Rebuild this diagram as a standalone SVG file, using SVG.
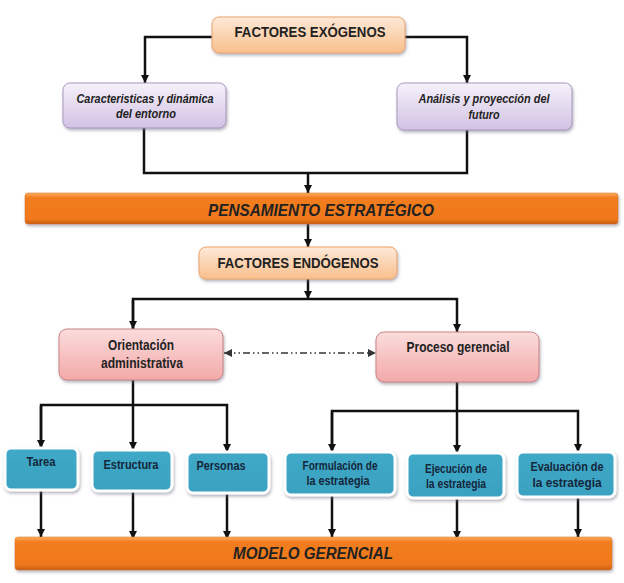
<svg xmlns="http://www.w3.org/2000/svg" width="624" height="583" viewBox="0 0 624 583">
<defs>
<linearGradient id="gOr" x1="0" y1="0" x2="0" y2="1"><stop offset="0" stop-color="#fde9d8"/><stop offset="1" stop-color="#f9bf8c"/></linearGradient>
<linearGradient id="gPu" x1="0" y1="0" x2="0" y2="1"><stop offset="0" stop-color="#f6f1fa"/><stop offset="1" stop-color="#d2c2e4"/></linearGradient>
<linearGradient id="gPk" x1="0" y1="0" x2="0" y2="1"><stop offset="0" stop-color="#fbdcdc"/><stop offset="1" stop-color="#f3a9a9"/></linearGradient>
<linearGradient id="gBl" x1="0" y1="0" x2="0" y2="1"><stop offset="0" stop-color="#40a9c8"/><stop offset="1" stop-color="#3aa1c0"/></linearGradient>
<linearGradient id="gBar" x1="0" y1="0" x2="0" y2="1"><stop offset="0" stop-color="#fbb060"/><stop offset="0.15" stop-color="#f27d20"/><stop offset="0.85" stop-color="#ef781c"/><stop offset="1" stop-color="#c55d10"/></linearGradient>
<filter id="sh" x="-10%" y="-20%" width="120%" height="150%"><feDropShadow dx="1" dy="2" stdDeviation="1.5" flood-color="#6a6a80" flood-opacity="0.5"/></filter>
<marker id="ar" viewBox="0 0 10 10" refX="10" refY="5" markerWidth="8" markerHeight="8" markerUnits="userSpaceOnUse" orient="auto"><path d="M0,0 L10,5 L0,10 z" fill="#111"/></marker>
<marker id="ad" viewBox="0 0 10 10" refX="10" refY="5" markerWidth="8" markerHeight="8" markerUnits="userSpaceOnUse" orient="auto-start-reverse"><path d="M0,0 L10,5 L0,10 z" fill="#333"/></marker>
</defs>
<style>
.t{font-family:"Liberation Sans",Arial,sans-serif;font-weight:bold;fill:#222;text-anchor:middle}
.i{font-style:italic}
.b{fill:#14263a}
.c{fill:none;stroke:#111;stroke-width:2.5}
.or{fill:url(#gOr);stroke:#eba46a;stroke-width:1}
.pu{fill:url(#gPu);stroke:#a899bf;stroke-width:1}
.pk{fill:url(#gPk);stroke:#c98585;stroke-width:1}
.bl{fill:url(#gBl);stroke:#ffffff;stroke-width:3}
.bar{fill:url(#gBar);stroke:#d8701a;stroke-width:0.5}
</style>
<rect width="624" height="583" fill="#ffffff"/>
<g id="connectors">
<path class="c" d="M212,37 H145 V83" marker-end="url(#ar)"/>
<path class="c" d="M405,37 H467 V83" marker-end="url(#ar)"/>
<path class="c" d="M144,128 V173 H467 V130"/>
<path class="c" d="M308,173 V193" marker-end="url(#ar)"/>
<path class="c" d="M308,224 V247" marker-end="url(#ar)"/>
<path class="c" d="M308,279 V299" marker-end="url(#ar)"/>
<path class="c" d="M133,329 V299 H457 V332" marker-end="url(#ar)"/>
<path class="c" d="M133,300 V329" marker-end="url(#ar)"/>
<path d="M224,353 H376" fill="none" stroke="#333" stroke-width="1.5" stroke-dasharray="7,3,1.5,3,1.5,3" marker-start="url(#ad)" marker-end="url(#ad)"/>
<path class="c" d="M133,380 V405"/>
<path class="c" d="M41,448 V405 H227 V452" marker-end="url(#ar)"/>
<path class="c" d="M41,406 V448" marker-end="url(#ar)"/>
<path class="c" d="M133,405 V450" marker-end="url(#ar)"/>
<path class="c" d="M457,382 V411"/>
<path class="c" d="M332,452 V411 H578 V452" marker-end="url(#ar)"/>
<path class="c" d="M332,412 V452" marker-end="url(#ar)"/>
<path class="c" d="M457,411 V453" marker-end="url(#ar)"/>
<path class="c" d="M41,490 V537" marker-end="url(#ar)"/>
<path class="c" d="M133,491 V539" marker-end="url(#ar)"/>
<path class="c" d="M227,493 V539" marker-end="url(#ar)"/>
<path class="c" d="M332,495 V537" marker-end="url(#ar)"/>
<path class="c" d="M457,498 V539" marker-end="url(#ar)"/>
<path class="c" d="M578,497 V537" marker-end="url(#ar)"/>
</g>
<g id="exogenos"><rect class="or" x="212" y="17" width="193" height="36" rx="7" filter="url(#sh)"/><text class="t" x="310" y="37" font-size="14" textLength="151" lengthAdjust="spacingAndGlyphs">FACTORES EXÓGENOS</text></g>
<g id="caracteristicas"><rect class="pu" x="63" y="83" width="163" height="45" rx="7" filter="url(#sh)"/><text class="t i" x="145" y="103" font-size="12.5" textLength="137" lengthAdjust="spacingAndGlyphs">Caracteristicas y dinámica</text><text class="t i" x="146" y="118" font-size="12.5" textLength="60" lengthAdjust="spacingAndGlyphs">del entorno</text></g>
<g id="analisis"><rect class="pu" x="397" y="83" width="175" height="47" rx="7" filter="url(#sh)"/><text class="t i" x="484" y="103" font-size="12.5" textLength="131" lengthAdjust="spacingAndGlyphs">Análisis y proyección del</text><text class="t i" x="484" y="119" font-size="12.5" textLength="31" lengthAdjust="spacingAndGlyphs">futuro</text></g>
<g id="pensamiento"><rect class="bar" x="25" y="193" width="593" height="31" rx="3" filter="url(#sh)"/><text class="t i" x="321" y="216" font-size="17" textLength="226" lengthAdjust="spacingAndGlyphs" fill="#1a1a1a">PENSAMIENTO ESTRATÉGICO</text></g>
<g id="endogenos"><rect class="or" x="199" y="247" width="198" height="32" rx="7" filter="url(#sh)"/><text class="t" x="298" y="268" font-size="14" textLength="161" lengthAdjust="spacingAndGlyphs">FACTORES ENDÓGENOS</text></g>
<g id="orientacion"><rect class="pk" x="59" y="329" width="164" height="51" rx="8" filter="url(#sh)"/><text class="t" x="141" y="350" font-size="14" textLength="66" lengthAdjust="spacingAndGlyphs">Orientación</text><text class="t" x="142" y="368" font-size="14" textLength="82" lengthAdjust="spacingAndGlyphs">administrativa</text></g>
<g id="proceso"><rect class="pk" x="376" y="332" width="163" height="50" rx="8" filter="url(#sh)"/><text class="t" x="458" y="352" font-size="14" textLength="103" lengthAdjust="spacingAndGlyphs">Proceso gerencial</text></g>
<g id="tarea"><rect class="bl" x="5" y="448" width="73" height="42" rx="6" filter="url(#sh)"/><text class="t b" x="41" y="466" font-size="13" textLength="29" lengthAdjust="spacingAndGlyphs">Tarea</text></g>
<g id="estructura"><rect class="bl" x="92" y="450" width="80" height="41" rx="6" filter="url(#sh)"/><text class="t b" x="131" y="469" font-size="13" textLength="55" lengthAdjust="spacingAndGlyphs">Estructura</text></g>
<g id="personas"><rect class="bl" x="187" y="452" width="82" height="41" rx="6" filter="url(#sh)"/><text class="t b" x="221" y="470" font-size="13" textLength="49" lengthAdjust="spacingAndGlyphs">Personas</text></g>
<g id="formulacion"><rect class="bl" x="285" y="452" width="110" height="43" rx="6" filter="url(#sh)"/><text class="t b" x="340" y="470" font-size="13" textLength="75" lengthAdjust="spacingAndGlyphs">Formulación de</text><text class="t b" x="338" y="485" font-size="13" textLength="63" lengthAdjust="spacingAndGlyphs">la estrategia</text></g>
<g id="ejecucion"><rect class="bl" x="407" y="453" width="97" height="45" rx="6" filter="url(#sh)"/><text class="t b" x="456" y="473" font-size="13" textLength="62" lengthAdjust="spacingAndGlyphs">Ejecución de</text><text class="t b" x="456" y="488" font-size="13" textLength="60" lengthAdjust="spacingAndGlyphs">la estrategia</text></g>
<g id="evaluacion"><rect class="bl" x="517" y="452" width="98" height="45" rx="6" filter="url(#sh)"/><text class="t b" x="567" y="471" font-size="13" textLength="73" lengthAdjust="spacingAndGlyphs">Evaluación de</text><text class="t b" x="567" y="487" font-size="13" textLength="69" lengthAdjust="spacingAndGlyphs">la estrategia</text></g>
<g id="modelo"><rect class="bar" x="15" y="537" width="597" height="33" rx="3" filter="url(#sh)"/><text class="t i" x="313" y="559" font-size="16" textLength="160" lengthAdjust="spacingAndGlyphs" fill="#1a1a1a">MODELO GERENCIAL</text></g>
</svg>
